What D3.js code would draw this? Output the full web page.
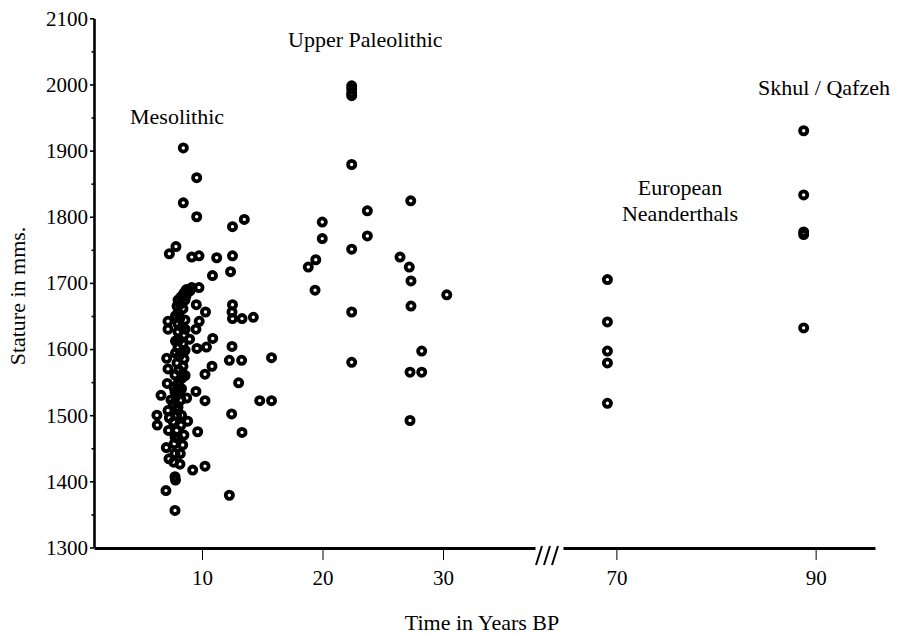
<!DOCTYPE html>
<html>
<head>
<meta charset="utf-8">
<script src="https://cdn.jsdelivr.net/npm/d3@7"></script>
<style>
  body { margin: 0; background: #fff; }
  svg { display: block; }
  text { font-family: "Liberation Serif", "Times New Roman", serif; fill: #000; }
</style>
</head>
<body>
<div id="vis"></div>
<script>
// [years BP (thousands), stature mm]
const mesolithic = [
  [8.45,1904],[9.56,1859],[8.45,1821],[9.56,1800],[12.53,1785],[13.51,1796],
  [7.84,1755],[7.29,1744],[9.15,1739],[9.75,1741],[11.22,1738],[12.53,1741],
  [10.87,1711],[12.37,1717],[9.15,1693],[9.75,1693],[9.53,1667],[10.29,1656],
  [9.77,1642],[9.50,1630],[7.18,1642],[7.18,1630],[8.97,1615],[10.89,1616],
  [9.58,1601],[10.37,1603],[7.07,1586],[10.83,1574],[12.53,1667],[12.49,1656],
  [12.53,1646],[13.32,1646],[14.26,1648],[12.49,1604],[12.27,1583],[13.29,1583],
  [15.77,1587],[10.25,1562],[13.04,1549],[9.50,1536],[10.25,1522],[14.79,1522],
  [15.77,1522],[12.46,1502],[7.18,1570],[8.40,1562],[7.12,1548],[8.03,1545],
  [6.60,1530],[8.73,1526],[6.26,1500],[6.29,1485],[7.18,1507],[7.90,1508],
  [7.29,1496],[8.81,1491],[7.62,1490],[7.22,1477],[7.90,1477],[9.64,1475],
  [13.32,1474],[7.04,1451],[7.70,1457],[7.76,1467],[8.20,1442],[7.76,1442],
  [7.26,1434],[7.65,1429],[9.23,1417],[10.25,1423],[7.76,1407],[7.80,1402],
  [7.01,1386],[12.27,1379],[7.76,1356],
  [8.51,1685],[8.26,1679],[8.01,1674],[8.59,1674],[7.93,1665],[8.42,1661],
  [8.01,1655],[8.17,1647],[8.59,1644],[8.01,1638],[8.34,1633],[8.01,1626],
  [8.51,1621],[8.09,1614],[8.42,1608],[8.01,1602],[8.34,1595],[8.09,1589],
  [8.51,1585],[7.93,1579],[8.42,1574],[8.09,1568],[7.76,1561],[8.34,1556],
  [8.01,1548],[7.68,1542],[8.09,1536],[7.84,1529],[8.26,1523],[7.62,1517],
  [8.01,1512],[9.00,1688],[8.67,1680],[7.76,1535],[7.43,1523],[8.17,1426],
  [8.26,1485],[8.01,1465],
  [8.70,1690],[8.20,1668],[7.80,1650],[8.60,1630],[7.80,1612],[8.60,1598],
  [7.80,1594],[8.60,1560],[8.30,1540],[7.90,1500],[8.30,1500],[8.50,1470],
  [8.40,1455]
];

const upperPaleolithic = [
  [18.82,1724],[19.44,1735],[19.38,1689],[19.98,1792],[19.98,1767],
  [22.42,1998],[22.42,1993],[22.42,1987],[22.42,1983],[22.42,1879],
  [22.42,1751],[22.42,1656],[22.42,1580],[23.72,1809],[23.72,1771],
  [26.43,1739],[27.32,1824],[27.20,1724],[27.34,1703],[27.34,1665],
  [28.23,1597],[27.26,1565],[28.23,1565],[27.26,1492],[30.31,1682]
];

const neanderthals = [[69.1,1705],[69.1,1641],[69.1,1597],[69.1,1579],[69.1,1518]];

const skhulQafzeh = [[88.8,1930],[88.8,1833],[88.8,1777],[88.8,1773],[88.8,1632]];

const yTicks = [1300,1400,1500,1600,1700,1800,1900,2000,2100];
const yMinorTicks = [1350,1450,1550,1650,1750,1850,1950,2050];
const xTicksLeft = [10,20,30];
const xTicksRight = [70,90];

const width = 899, height = 636;
const axisY = 548;
const serif = '"Liberation Serif", "Times New Roman", serif';

const svg = d3.select("#vis").append("svg")
  .attr("width", width)
  .attr("height", height);

svg.append("rect").attr("width", width).attr("height", height).attr("fill", "#fff");

const y = d3.scaleLinear().domain([1300, 2100]).range([547.5, 18.3]);
// broken x axis: two pieces
const xLeft = d3.scaleLinear().domain([1.04, 37.63]).range([94, 535]);
const xRight = d3.scaleLinear().domain([64.64, 95.96]).range([563, 875]);

const xPos = (v) => v < 50 ? xLeft(v) : xRight(v);

// y axis
const yAxis = svg.append("g")
  .attr("transform", "translate(94,0)")
  .call(d3.axisLeft(y).tickValues(yTicks).tickFormat(d3.format("d"))
    .tickSize(4).tickSizeOuter(0).tickPadding(2));
yAxis.attr("font-family", serif);
yAxis.select(".domain").attr("stroke-width", 2.6);
yAxis.selectAll(".tick line").attr("stroke-width", 1.6);
yAxis.selectAll("text").attr("font-size", 21).attr("dy", "0.33em");

svg.append("g")
  .attr("transform", "translate(94,0)")
  .call(d3.axisLeft(y).tickValues(yMinorTicks).tickSize(2.5).tickFormat(""))
  .call(g => g.select(".domain").remove())
  .selectAll(".tick line").attr("stroke-width", 1.6);

// x axis, two segments
function drawX(scale, ticks) {
  const g = svg.append("g")
    .attr("transform", `translate(0,${axisY})`)
    .call(d3.axisBottom(scale).tickValues(ticks).tickFormat(d3.format("d"))
      .tickSize(12).tickSizeOuter(0).tickPadding(10));
  g.attr("font-family", serif);
  g.select(".domain").attr("stroke-width", 3);
  g.selectAll(".tick line").attr("stroke-width", 1);
  g.selectAll("text").attr("font-size", 21);
}
drawX(xLeft, xTicksLeft);
drawX(xRight, xTicksRight);

// break marks ///
svg.append("g").selectAll("line")
  .data([0, 1, 2])
  .join("line")
  .attr("x1", d => 536 + d * 8)
  .attr("y1", 565)
  .attr("x2", d => 542 + d * 8)
  .attr("y2", 546)
  .attr("stroke", "#000")
  .attr("stroke-width", 2);

// points
const allPoints = [].concat(mesolithic, upperPaleolithic, neanderthals, skhulQafzeh);
svg.append("g").selectAll("circle")
  .data(allPoints)
  .join("circle")
  .attr("cx", d => xPos(d[0]))
  .attr("cy", d => y(d[1]))
  .attr("r", 3.6)
  .attr("fill", "none")
  .attr("stroke", "#000")
  .attr("stroke-width", 3.8);

// group labels
const labels = [
  { text: "Mesolithic", x: 130, y: 124, anchor: "start" },
  { text: "Upper Paleolithic", x: 288, y: 47, anchor: "start" },
  { text: "Skhul / Qafzeh", x: 758, y: 95, anchor: "start" },
  { text: "European", x: 680, y: 195, anchor: "middle" },
  { text: "Neanderthals", x: 680, y: 221, anchor: "middle" }
];
svg.append("g").selectAll("text")
  .data(labels)
  .join("text")
  .attr("x", d => d.x)
  .attr("y", d => d.y)
  .attr("text-anchor", d => d.anchor)
  .attr("font-size", 22)
  .text(d => d.text);

// axis titles
svg.append("text")
  .attr("x", 482)
  .attr("y", 630)
  .attr("text-anchor", "middle")
  .attr("font-size", 22)
  .text("Time in Years BP");

svg.append("text")
  .attr("transform", "translate(25,296) rotate(-90)")
  .attr("text-anchor", "middle")
  .attr("font-size", 22)
  .text("Stature in mms.");
</script>
</body>
</html>
